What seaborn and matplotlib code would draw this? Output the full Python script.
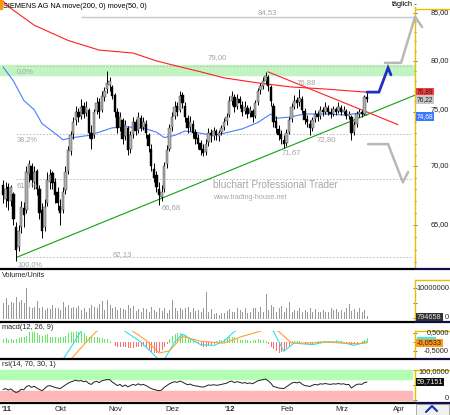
import matplotlib
matplotlib.use("Agg")
import matplotlib.pyplot as plt
from matplotlib.patches import Rectangle
import seaborn as sns
import pandas as pd
import numpy as np

# daily candles, Sep 2011 - Mar 2012
open_ = [68.4, 67.2, 68.2, 67.0, 67.6, 64.8, 63.2, 64.8, 66.4, 66.2,
         69.3, 70.0, 68.6, 69.6, 68.0, 66.2, 64.8, 66.8, 68.6, 69.4,
         68.6, 67.8, 66.6, 66.2, 67.9, 69.6, 71.4, 72.9, 74.2, 75.0,
         74.6, 75.6, 74.9, 75.2, 73.0, 72.8, 75.1, 75.9, 75.2, 76.4,
         77.2, 77.6, 77.4, 76.6, 75.0, 73.6, 74.2, 72.7, 73.5, 71.6,
         72.9, 74.0, 73.3, 74.4, 73.6, 73.9, 72.8, 71.6, 69.8, 69.2,
         68.0, 67.3, 68.0, 70.2, 71.6, 73.6, 74.6, 75.6, 75.2, 76.6,
         75.6, 74.4, 73.6, 73.9, 73.1, 72.6, 72.1, 71.6, 71.3, 72.2,
         73.0, 72.7, 73.2, 72.7, 73.1, 73.6, 74.1, 74.7, 76.0, 76.4,
         75.6, 76.2, 75.7, 75.1, 75.4, 74.9, 75.1, 74.6, 75.9, 77.1,
         77.5, 78.0, 78.4, 77.4, 75.6, 74.1, 73.4, 72.9, 72.4, 72.1,
         73.1, 74.3, 75.5, 76.1, 75.9, 76.2, 75.1, 74.3, 73.9, 73.5,
         74.3, 74.8, 74.6, 75.2, 75.0, 75.4, 75.0, 74.8, 75.3, 75.1,
         75.4, 75.0, 75.1, 74.6, 74.5, 73.1, 73.9, 74.8, 75.0, 74.8,
         76.4]
high = [68.8, 68.6, 68.5, 68.4, 67.8, 65.2, 65.0, 67.0, 66.9, 70.0,
        70.6, 70.3, 70.0, 69.8, 68.4, 66.8, 67.2, 69.5, 69.8, 69.6,
        69.0, 68.2, 67.2, 68.2, 70.0, 71.8, 73.2, 74.5, 75.6, 75.4,
        76.2, 75.9, 76.0, 75.4, 73.8, 75.3, 76.4, 76.3, 77.0, 77.4,
        79.0, 78.4, 77.6, 76.8, 75.4, 75.0, 74.4, 74.2, 73.7, 73.2,
        74.5, 74.3, 75.0, 74.7, 74.5, 74.2, 73.0, 72.0, 70.3, 69.6,
        68.6, 68.4, 70.4, 71.9, 73.9, 75.0, 76.0, 75.9, 77.0, 76.9,
        75.9, 74.7, 74.6, 74.2, 73.4, 72.9, 72.4, 72.0, 72.5, 73.5,
        73.4, 73.6, 73.4, 73.3, 73.8, 74.4, 74.9, 76.5, 77.0, 76.7,
        76.7, 76.5, 76.0, 76.0, 75.7, 75.6, 75.3, 76.1, 77.3, 77.8,
        78.4, 78.9, 78.6, 77.6, 75.8, 74.6, 73.8, 73.3, 72.8, 73.4,
        74.5, 75.8, 76.6, 76.4, 77.2, 76.5, 75.4, 74.7, 74.2, 74.5,
        75.2, 75.1, 75.6, 75.5, 75.9, 75.7, 75.4, 75.6, 75.5, 75.9,
        75.7, 75.6, 75.3, 75.1, 74.7, 74.1, 75.1, 75.3, 75.2, 76.6,
        76.9]
low = [66.8, 66.5, 66.2, 66.6, 65.0, 62.13, 62.9, 64.3, 64.8, 66.0,
       68.6, 68.2, 68.0, 67.5, 65.5, 63.9, 64.5, 66.6, 68.0, 68.0,
       66.8, 66.2, 65.0, 66.0, 67.6, 69.3, 71.0, 72.5, 73.8, 74.0,
       74.3, 74.4, 74.6, 72.6, 71.6, 72.6, 74.8, 74.4, 75.0, 76.0,
       76.8, 77.0, 76.2, 74.5, 73.0, 73.2, 72.0, 72.4, 71.0, 71.2,
       72.6, 72.8, 73.0, 73.2, 73.3, 72.6, 71.3, 69.6, 68.6, 67.8,
       66.68, 67.0, 67.8, 69.9, 71.4, 73.2, 74.3, 74.6, 75.0, 75.4,
       74.0, 73.0, 73.2, 72.6, 72.0, 71.6, 71.0, 70.9, 71.0, 71.8,
       72.2, 72.4, 72.4, 72.3, 72.8, 73.3, 73.8, 74.5, 75.7, 75.0,
       75.3, 75.4, 74.6, 74.8, 74.4, 74.5, 74.0, 74.4, 75.7, 76.7,
       77.2, 77.7, 77.0, 75.6, 73.6, 73.0, 72.4, 72.0, 71.67, 71.8,
       72.9, 74.0, 75.3, 75.4, 75.6, 74.9, 73.9, 73.6, 72.8, 73.2,
       74.0, 74.1, 74.3, 74.6, 74.8, 74.7, 74.4, 74.6, 74.7, 74.9,
       74.7, 74.8, 74.3, 74.3, 72.4, 72.8, 73.6, 74.5, 74.5, 74.7,
       75.9]
close = [67.5, 68.0, 67.0, 68.2, 65.5, 63.0, 64.5, 66.5, 65.8, 69.5,
         70.2, 68.8, 69.5, 68.0, 66.0, 64.5, 66.5, 68.8, 69.2, 68.5,
         67.5, 66.8, 66.0, 67.8, 69.5, 71.5, 72.8, 74.0, 75.0, 74.5,
         75.5, 74.8, 75.5, 73.0, 72.5, 75.0, 75.8, 75.0, 76.5, 77.0,
         77.8, 78.0, 76.5, 75.0, 73.5, 74.5, 72.5, 73.8, 71.5, 72.8,
         74.0, 73.2, 74.5, 73.5, 74.0, 73.0, 71.8, 70.0, 69.0, 68.2,
         67.5, 67.8, 70.0, 71.5, 73.5, 74.5, 75.5, 75.0, 76.5, 75.8,
         74.5, 73.5, 74.0, 73.0, 72.5, 72.0, 71.5, 71.2, 72.0, 73.0,
         72.8, 73.2, 72.8, 73.0, 73.5, 74.0, 74.5, 76.0, 76.5, 75.5,
         76.2, 75.8, 75.0, 75.5, 74.8, 75.2, 74.5, 75.8, 77.0, 77.5,
         78.0, 78.5, 77.5, 76.0, 74.0, 73.5, 72.8, 72.5, 72.0, 73.0,
         74.2, 75.5, 76.0, 75.8, 76.3, 75.2, 74.2, 74.0, 73.5, 74.2,
         74.8, 74.5, 75.2, 75.0, 75.5, 75.0, 74.8, 75.3, 75.0, 75.5,
         75.0, 75.2, 74.6, 74.8, 73.0, 73.8, 74.8, 75.0, 74.8, 76.4,
         76.22]

volume_mio = [4.9, 6.6, 4.3, 5.4, 4.9, 7.1, 5.4, 6.0, 4.9, 9.9,
              3.8, 3.2, 3.8, 5.7, 3.2, 3.8, 2.7, 3.4, 3.0, 4.3,
              3.2, 3.4, 2.7, 5.4, 3.8, 4.3, 3.2, 3.8, 3.4, 4.1,
              2.7, 3.4, 2.1, 3.2, 4.3, 3.8, 3.2, 4.6, 5.7, 2.7,
              6.0, 4.3, 3.2, 3.8, 2.7, 3.4, 3.0, 2.7, 4.3, 3.2,
              4.1, 2.3, 3.0, 2.1, 3.4, 2.9, 2.1, 3.8, 2.7, 1.9,
              3.2, 2.3, 3.4, 1.6, 2.7, 6.0, 3.2, 2.3, 3.4, 2.7,
              3.2, 3.8, 2.1, 3.2, 2.3, 2.7, 1.9, 3.4, 8.8, 2.1,
              3.0, 1.2, 1.6, 1.0, 1.6, 1.6, 2.3, 3.0, 2.1, 2.1,
              3.2, 2.7, 2.1, 3.4, 1.6, 2.1, 3.4, 3.2, 2.1, 3.8,
              2.1, 7.9, 2.7, 4.3, 3.8, 2.1, 3.2, 4.1, 2.1, 3.4,
              5.4, 2.1, 2.7, 2.3, 3.4, 2.1, 2.7, 2.1, 3.2, 2.1,
              3.0, 2.1, 2.1, 2.7, 2.1, 2.1, 3.4, 2.7, 3.0, 2.1,
              2.7, 1.9, 3.2, 4.6, 2.3, 2.9, 2.1, 3.2, 2.1, 2.7,
              0.794658]

macd_hist = [0.15, 0.2, 0.1, 0.15, 0.12, 0.18, 0.2, 0.25, 0.3, 0.35,
             0.55, 0.58, 0.55, 0.5, 0.4, 0.35, 0.38, 0.42, 0.3, 0.28,
             0.25, 0.22, 0.28, 0.3, 0.35, 0.5, 0.55, 0.58, 0.6, 0.58,
             0.55, 0.5, 0.35, 0.3, 0.3, 0.28, 0.25, 0.22, 0.2, 0.18,
             0.15, 0.05, -0.02, -0.15, -0.2, -0.22, -0.25, -0.25, -0.3, -0.28,
             -0.3, -0.25, -0.22, -0.2, -0.18, -0.3, -0.4, -0.5, -0.55, -0.55,
             -0.5, -0.4, -0.25, -0.05, 0.15, 0.35, 0.45, 0.5, 0.5, 0.45,
             0.4, 0.3, 0.2, 0.1, 0.05, -0.05, -0.15, -0.2, -0.22, -0.18,
             -0.12, -0.08, 0.05, 0.1, 0.12, 0.15, 0.25, 0.3, 0.28, 0.25,
             0.15, 0.12, 0.1, 0.12, 0.1, 0.08, 0.1, 0.12, 0.15, 0.12,
             0.1, 0.08, -0.05, -0.2, -0.35, -0.45, -0.55, -0.5, -0.45, -0.3,
             -0.15, 0.05, 0.08, 0.05, 0.03, -0.02, -0.05, -0.08, -0.05, -0.03,
             0.02, 0.05, 0.06, 0.05, 0.08, 0.06, 0.05, 0.08, 0.1, 0.08,
             0.05, 0.02, -0.05, -0.1, -0.12, -0.08, -0.03, 0.02, 0.08, 0.12,
             0.2]

rsi = [35, 38, 33, 37, 30, 25, 28, 36, 34, 45,
       48, 42, 46, 40, 35, 31, 38, 46, 48, 45,
       42, 40, 38, 44, 50, 56, 60, 63, 66, 63,
       65, 61, 63, 55, 52, 60, 62, 58, 64, 66,
       68, 68, 60, 54, 48, 52, 45, 50, 44, 48,
       52, 49, 54, 50, 52, 48, 43, 38, 35, 33,
       31, 33, 42, 48, 54, 58, 61, 59, 63, 60,
       55, 51, 53, 49, 47, 46, 44, 43, 46, 50,
       49, 51, 49, 50, 52, 54, 56, 61, 63, 58,
       61, 59, 56, 58, 55, 57, 54, 59, 64, 66,
       68, 70, 64, 56, 45, 43, 40, 39, 38, 44,
       50, 56, 59, 57, 60, 53, 48, 47, 45, 49,
       52, 50, 54, 53, 55, 53, 52, 54, 53, 55,
       53, 54, 51, 52, 40, 46, 52, 53, 52, 58,
       59.7151]

# moving averages, read at bar indices
ma200_idx = [0, 3, 12, 25, 37, 50, 59, 65, 76, 85, 98, 111, 124, 140]
ma200_val = [86.3, 85.5, 83.7, 82.1, 81.1, 80.8, 80.0, 79.6, 78.9, 78.3, 77.8, 77.4, 77.2, 76.89]
ma50_idx = [0, 4, 8, 12, 15, 21, 23, 27, 33, 37, 42, 48, 55, 59, 62, 66, 70, 76, 81, 85,
            92, 98, 103, 105, 110, 116, 124, 132, 137, 140]
ma50_val = [79.4, 78.0, 76.1, 75.2, 73.9, 72.8, 72.4, 72.6, 72.8, 73.1, 73.5, 73.6, 73.4, 73.1,
            72.6, 72.8, 73.2, 73.0, 72.8, 73.0, 73.4, 74.0, 74.8, 74.4, 74.5, 74.8, 74.8, 74.7,
            74.9, 74.68]

macd_idx = [0, 14, 20, 23, 27, 30, 33, 39, 44, 47, 53, 58, 60, 62, 66, 69, 76, 81, 85, 89,
            95, 101, 104, 108, 112, 119, 124, 130, 135, 140]
macd_val = [-1.6, -1.4, -1.1, -0.98, -0.1, 0.6, 1.2, 1.4, 1.0, 0.59, 0.0, -0.7, -1.0, -0.98,
            0.0, 0.44, -0.15, -0.19, 0.04, 0.59, 0.9, 0.9, 0.59, -0.52, -0.06, -0.15, 0.0, 0.0,
            -0.19, 0.04]
signal_idx = [0, 14, 22, 26, 32, 36, 41, 45, 50, 55, 60, 64, 69, 76, 85, 92, 98, 101, 105,
              106, 111, 117, 124, 130, 137, 140]
signal_val = [-1.9, -1.7, -1.3, -0.98, 0.0, 0.59, 1.0, 1.0, 0.59, 0.1, -0.61, -0.5, 0.31,
              0.04, -0.06, 0.31, 0.56, 0.7, 0.65, 0.59, -0.06, -0.06, 0.0, -0.06, -0.1, -0.0533]

# drawing tools: (bar position, price)
fib_levels = [79.45, 72.94, 68.91, 62.40]
fib_labels = ["0,0%", "38,2%", "61,8%", "100,0%"]
up_trend = ([5.4, 158.4], [62.4, 76.6])
down_trend = ([101.9, 151.9], [78.9, 73.8])
blue_path = ([140.0, 144.6, 148.1, 149.2], [76.9, 76.9, 79.3, 78.6])
gray_up = ([146.9, 153.1, 158.5, 161.2], [79.8, 79.8, 84.6, 83.5])
gray_down = ([140.4, 148.1, 153.8, 155.8], [72.0, 72.0, 68.6, 69.5])

months = ["2011-10-01", "2011-11-01", "2011-12-01", "2012-01-01", "2012-02-01", "2012-03-01", "2012-04-01"]
month_labels = ["Okt", "Nov", "Dez", "'12", "Feb", "Mrz", "Apr"]

sns.set_style("white")
plt.rcParams["font.family"] = ["Liberation Sans", "DejaVu Sans"]

W, H = 450, 415
fig = plt.figure(figsize=(W / 100, H / 100), dpi=100)
fig.patch.set_facecolor("white")

dates = pd.bdate_range(end="2012-03-16", periods=len(close))
xi = np.arange(len(close), dtype=float)
o, h, l, c = map(np.asarray, (open_, high, low, close))
PXB = 2.6  # pixels per bar
x_lo = -3 / PXB
x_hi = x_lo + 415 / PXB
YEL = "#e8c000"


def panel(top, height):
    a = fig.add_axes([0, 1 - (top + height) / H, 415 / W, height / H])
    a.set_xlim(x_lo, x_hi)
    for s in ("top", "left", "bottom"):
        a.spines[s].set_visible(False)
    a.spines["right"].set_color(YEL)
    a.spines["right"].set_linewidth(1.0)
    a.yaxis.tick_right()
    a.tick_params(axis="x", bottom=False, labelbottom=False)
    a.tick_params(axis="y", which="both", labelright=False, direction="inout",
                  length=2.5, width=0.5, color="#404040")
    a.set_facecolor("white")
    return a


# ---- main price panel
ax = panel(0, 268)
ax.set_yscale("log")
ax.set_ylim(61.55, 86.41)
ax.set_yticks([65, 70, 75, 80, 85])
ax.set_yticks(list(range(62, 87)), minor=True)
ax.yaxis.set_minor_formatter(plt.NullFormatter())
ax.yaxis.set_major_formatter(plt.NullFormatter())
ax.tick_params(axis="y", which="minor", length=1.5)
ax.spines["right"].set_bounds(61.55, 85.6)

ax.axhspan(78.6, 79.6, color="#c2f4c2", zorder=0)
ax.hlines(84.53, 30, x_hi, color="#c8c8c8", lw=1.0, zorder=1)
for lev in fib_levels:
    ax.hlines(lev, 5, x_hi - 1, color="#b4b4b4", lw=0.6, linestyles=(0, (2, 2)), zorder=1)

sns.lineplot(x=xi[ma200_idx], y=ma200_val, ax=ax, color="#ff2020", lw=0.8)
sns.lineplot(x=xi[ma50_idx], y=ma50_val, ax=ax, color="#4a7dff", lw=0.8)
ax.plot(*up_trend, color="#10a010", lw=0.8)
ax.plot(*down_trend, color="#ff2020", lw=0.8)

ax.vlines(xi, l, h, color="black", lw=0.7, zorder=3)
upc = c >= o
bot = np.minimum(o, c)
hgt = np.maximum(np.abs(c - o), 0.06)
ax.bar(xi[upc], hgt[upc], bottom=bot[upc], width=0.95, color="#b0b0b0",
       edgecolor="#303030", lw=0.3, zorder=4)
ax.bar(xi[~upc], hgt[~upc], bottom=bot[~upc], width=0.95, color="black",
       edgecolor="black", lw=0.3, zorder=4)

ax.plot(*blue_path, color="#2030c0", lw=2.0, zorder=5, solid_joinstyle="miter")
ax.plot(*gray_up, color="#b8b8b8", lw=1.8, zorder=5, clip_on=False)
ax.plot(*gray_down, color="#b8b8b8", lw=1.8, zorder=5, clip_on=False)

# ---- volume panel
axv = panel(269, 52)
axv.vlines(xi, 0, volume_mio, color="#999999", lw=0.5, antialiased=False)
axv.set_ylim(-1.0, 16.3)
axv.set_yticks([0, 10])
axv.set_yticks([5], minor=True)
axv.spines["right"].set_bounds(-1.0, 12.7)

# ---- macd panel
axm = panel(322, 36)
hist = np.asarray(macd_hist)
axm.vlines(xi, 0, hist, colors=np.where(hist >= 0, "#66e866", "#ff6a6a"), lw=0.5, antialiased=False)
sns.lineplot(x=xi[macd_idx], y=macd_val, ax=axm, color="#30e0f0", lw=0.8)
sns.lineplot(x=xi[signal_idx], y=signal_val, ax=axm, color="#ffa030", lw=0.8)
axm.set_ylim(-0.89, 1.11)
axm.set_yticks([-0.5, 0, 0.5])
axm.spines["right"].set_bounds(-0.89, 0.61)
clip = Rectangle((x_lo, -0.99), x_hi - x_lo, 1.6, transform=axm.transData, fc="none", ec="none")
axm.add_patch(clip)
for ln in axm.lines:
    ln.set_clip_path(clip)

# ---- rsi panel
axr = panel(359, 43)
axr.set_ylim(-6.7, 136.7)
axr.axhspan(70, 100, xmax=0.993, color="#b2ffb2", zorder=0)
axr.axhspan(0, 30, xmax=0.993, color="#ffb6b6", zorder=0)
sns.lineplot(x=xi, y=rsi, ax=axr, color="#202020", lw=0.7)
axr.set_yticks([0, 50, 100])
axr.spines["right"].set_bounds(-6.7, 100)

# ---- overlay in pixel coordinates for frame, labels and value boxes
ov = fig.add_axes([0, 0, 1, 1], zorder=10)
ov.set_xlim(0, W)
ov.set_ylim(H, 0)
ov.axis("off")
ov.patch.set_alpha(0)

for yy in (268.5, 321.5, 358.5, 402.5):
    ov.plot([0, 415], [yy, yy], color="black", lw=1.6)
    ov.plot([415, 450], [yy, yy], color="#101048", lw=1.6)
for yy in (9, 280, 331, 370):
    ov.plot([415, 450], [yy, yy], color=YEL, lw=1.0)

fs = 5.3
ov.add_patch(Rectangle((0, 0), 2, 9, color="#ff9900"))
ov.text(3, 6, "SIEMENS AG NA move(200, 0) move(50, 0)", fontsize=fs, va="center", color="black")
ov.text(392, 5, "täglich", fontsize=fs, va="center", color="black")

grey = "#a4a4a4"
for s, xx, yy in [("84,53", 258, 13), ("79,00", 208, 58), ("76,88", 297, 83), ("66,68", 162, 208),
                  ("62,13", 113, 255), ("71,67", 282, 153), ("72,80", 317, 140)]:
    ov.text(xx, yy, s, fontsize=fs + 0.3, color=grey, va="center")
for s, yy in zip(fib_labels, [72, 140, 185.5, 264.5]):
    ov.text(17, yy, s, fontsize=fs, color=grey, va="center")

ov.text(213, 185, "bluchart Professional Trader", fontsize=7.2, color="#a8a8a8", va="center")
ov.text(213, 197, "www.trading-house.net", fontsize=5.2, color="#a8a8a8", va="center")

for s, yy in [("85,00", 13), ("80,00", 61), ("75,00", 109.5), ("70,00", 166), ("65,00", 225)]:
    ov.text(449, yy, s, fontsize=fs, ha="right", va="center", color="#202020")


def box(x, y, s, fc, tc, size=fs):
    ov.text(x, y, s, fontsize=size, va="center", ha="left", color=tc,
            bbox=dict(boxstyle="square,pad=0.12", fc=fc, ec="none"))


box(416.5, 92, "76,89", "#ff3c3c", "#202020", 4.8)
box(416.5, 99.5, "76,22", "#c8c8c8", "#202020", 4.8)
box(416.5, 116.5, "74,68", "#3c78ff", "white", 4.8)

ov.text(2, 275, "Volume/Units", fontsize=fs, va="center")
ov.text(449, 288, "10000000", fontsize=fs, ha="right", va="center")
ov.text(449, 317, "0", fontsize=fs, ha="right", va="center")
box(417, 317, "794658", "#303030", "#e0e0e0")

ov.text(2, 327, "macd(12, 26, 9)", fontsize=fs, va="center")
ov.text(449, 333, "0,5000", fontsize=fs, ha="right", va="center")
ov.text(449, 351, "-0,5000", fontsize=fs, ha="right", va="center")
ov.add_patch(Rectangle((417, 336.5), 18, 4, color="#40e8f0", zorder=1))
box(417, 343, "-0,0533", "#ff9a1a", "#202020")

ov.text(2, 364, "rsi(14, 70, 30, 1)", fontsize=fs, va="center")
ov.text(449, 372, "100,0000", fontsize=fs, ha="right", va="center")
ov.text(449, 398, "0", fontsize=fs, ha="right", va="center")
box(417, 382, "59,7151", "#101010", "#f0f0f0")

ov.text(1, 409, "'11", fontsize=fs + 0.3, va="center", fontweight="bold")
for m, s in zip(months, month_labels):
    pos = len(pd.bdate_range(dates[0], pd.Timestamp(m) - pd.Timedelta(days=1)))
    xpx = 3 + PXB * pos + 3
    ov.text(xpx, 409, s, fontsize=fs + 0.3, ha="center", va="center",
            fontweight="bold" if s == "'12" else "normal")
ov.add_patch(Rectangle((416, 403.5), 33, 11, fc="#f0f0f0", ec="#909090", lw=0.5))
ov.plot([426, 432, 437], [412, 406, 411], color="#1030c0", lw=1.5)

fig.savefig("out.png", dpi=100)
